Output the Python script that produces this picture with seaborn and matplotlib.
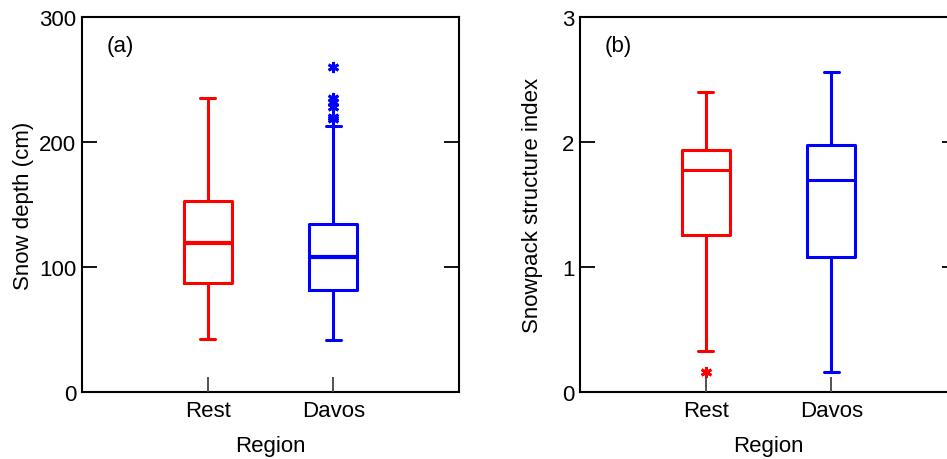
import numpy as np
import matplotlib
matplotlib.use("Agg")
import matplotlib.pyplot as plt
import seaborn as sns

# box statistics
regions = ["Rest", "Davos"]
colors = ["#ff0000", "#0000ff"]

# (a) snow depth (cm)
depth_whislo = [42.4, 41.6]
depth_q1 = [87.0, 81.6]
depth_med = [119.5, 107.7]
depth_q3 = [152.5, 134.7]
depth_whishi = [235.0, 213.0]
depth_fliers = [[], [218.4, 219.7, 227.7, 232.0, 235.0, 259.7]]

# (b) snowpack structure index
ssi_whislo = [0.33, 0.16]
ssi_q1 = [1.26, 1.08]
ssi_med = [1.78, 1.70]
ssi_q3 = [1.94, 1.98]
ssi_whishi = [2.40, 2.56]
ssi_fliers = [[0.157], []]

sns.set_style("ticks")
plt.rcParams['font.family'] = ['Liberation Sans', 'DejaVu Sans']
plt.rcParams['font.size'] = 16
plt.rcParams['text.color'] = 'black'
plt.rcParams['axes.labelcolor'] = 'black'
plt.rcParams['axes.axisbelow'] = False
plt.rcParams['xtick.color'] = 'black'
plt.rcParams['ytick.color'] = 'black'
plt.rcParams['xtick.direction'] = 'in'
plt.rcParams['ytick.direction'] = 'in'

FS = 16


def make_stats(whislo, q1, med, q3, whishi, fliers):
    stats = []
    for i in range(len(regions)):
        stats.append({'label': regions[i], 'whislo': whislo[i], 'q1': q1[i],
                      'med': med[i], 'q3': q3[i], 'whishi': whishi[i],
                      'fliers': fliers[i]})
    return stats


def draw_panel(ax, stats, med_lw, ylim, yticks, ylabel, tag, ypad):
    for i, st in enumerate(stats):
        c = colors[i]
        ax.bxp([st], positions=[i], widths=0.38, capwidths=0.12,
               manage_ticks=False, showfliers=True,
               boxprops=dict(color=c, linewidth=2.2),
               whiskerprops=dict(color=c, linewidth=2.2),
               capprops=dict(color=c, linewidth=2.2),
               medianprops=dict(color=c, linewidth=med_lw),
               flierprops=dict(marker=(6, 2, 0), markeredgecolor=c,
                               markerfacecolor=c, markersize=8, markeredgewidth=2,
                               linestyle='none'))
    ax.set_xlim(-1, 2)
    ax.set_ylim(*ylim)
    ax.set_yticks(yticks)
    ax.set_xticks(range(len(regions)))
    ax.set_xticklabels(regions)
    ax.set_xlabel("Region", fontsize=FS, labelpad=10)
    ax.set_ylabel(ylabel, fontsize=FS, labelpad=ypad)
    ax.tick_params(axis='y', direction='in', length=11, width=1.3,
                   left=True, right=True, labelsize=FS, pad=4, color='black')
    ax.tick_params(axis='x', direction='in', length=11, width=1.3,
                   bottom=True, top=False, labelsize=FS, pad=6,
                   color='#444444', labelcolor='black')
    for sp in ax.spines.values():
        sp.set_visible(True)
        sp.set_linewidth(1.5)
        sp.set_color('black')
    ax.text(0.066, 0.925, tag, transform=ax.transAxes, fontsize=FS,
            ha='left', va='center')


fig = plt.figure(figsize=(9.47, 4.6), dpi=100)
ax1 = fig.add_axes([0.0866, 0.1457, 0.398, 0.815])
ax2 = fig.add_axes([0.6125, 0.1457, 0.398, 0.815])

draw_panel(ax1, make_stats(depth_whislo, depth_q1, depth_med, depth_q3,
                           depth_whishi, depth_fliers),
           3, (0, 300), [0, 100, 200, 300], "Snow depth (cm)", "(a)", 4)
draw_panel(ax2, make_stats(ssi_whislo, ssi_q1, ssi_med, ssi_q3,
                           ssi_whishi, ssi_fliers),
           2.2, (0, 3), [0, 1, 2, 3], "Snowpack structure index", "(b)", 14)

fig.savefig("out.png", dpi=100)
